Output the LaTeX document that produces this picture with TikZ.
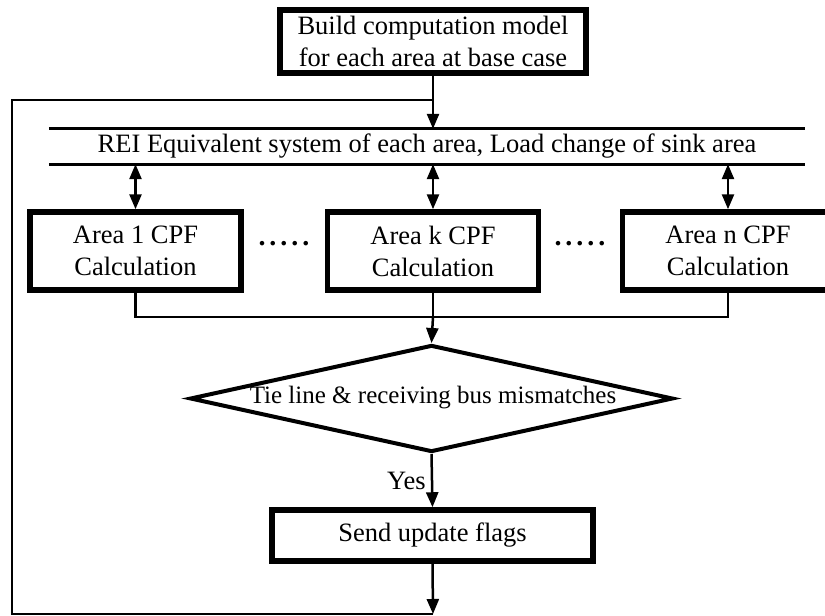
\documentclass[tikz,border=0pt]{standalone}
\usepackage{fontspec}
\setmainfont{Liberation Serif}
\usetikzlibrary{arrows.meta,shapes.geometric}

\begin{document}
\begin{tikzpicture}[x=1pt,y=-1pt,
  every node/.style={font=\fontsize{26.5}{32}\selectfont, inner sep=0pt, align=center},
  procbox/.style={draw, line width=5.5pt, rectangle},
  decbox/.style={draw, line width=4pt, diamond},
  conn/.style={line width=2.5pt},
  arr/.style={conn, -{Triangle[width=12pt,length=15pt]}},
  darr/.style={conn, {Triangle[width=12pt,length=15pt]}-{Triangle[width=12pt,length=15pt]}},
  busline/.style={line width=3pt}]

  \useasboundingbox (0,0) rectangle (825,616);

  % process boxes
  \node[procbox, minimum width=306pt, minimum height=63pt] (top) at (433,41.5)
    {Build computation model\\for each area at base case};

  % interface bus: two rails with the caption between them
  \node[minimum width=756pt, minimum height=35pt] (bus) at (427,146.5)
    {REI Equivalent system of each area, Load change of sink area};
  \draw[busline] (bus.north west) -- (bus.north east);
  \draw[busline] (bus.south west) -- (bus.south east);

  \node[procbox, minimum width=211pt, minimum height=78pt] (a1) at (135.5,251)
    {Area 1 CPF\\Calculation};
  \node[procbox, minimum width=211pt, minimum height=78pt] (ak) at (433,251)
    {Area k CPF\\Calculation};
  \node[procbox, minimum width=211pt, minimum height=78pt] (an) at (728,251)
    {Area n CPF\\Calculation};

  \node[font=\fontsize{28}{28}\selectfont\bfseries] (d1) at (284,244)
    {.\kern4pt.\kern4pt.\kern4pt.\kern4pt.};
  \node[font=\fontsize{28}{28}\selectfont\bfseries] (d2) at (580,244)
    {.\kern4pt.\kern4pt.\kern4pt.\kern4pt.};

  % decision
  \node[decbox, minimum width=483pt, minimum height=107pt] (dec) at (431.5,398.5) {};
  \node[font=\fontsize{25}{30}\selectfont] (dectext) at (433,398)
    {Tie line \& receiving bus mismatches};

  \node[procbox, minimum width=321pt, minimum height=51pt] (send) at (432.5,535.5)
    {Send update flags};

  % junction points
  \coordinate (join) at (433,100);
  \coordinate (merge) at (433,317);
  \coordinate (bot) at (433,614);
  \coordinate (botleft) at (12,614);

  % connectors
  \draw[arr] (top.south) -- (bus.north -| top.south);
  \draw[darr] (bus.south -| a1.north) -- (a1.north);
  \draw[darr] (bus.south -| ak.north) -- (ak.north);
  \draw[darr] (bus.south -| an.north) -- (an.north);

  \draw[conn] (a1.south) |- (merge) -| (an.south);
  \draw[conn] (ak.south) -- (merge);
  \draw[arr] (merge) -- (dec.north);

  \draw[arr] (dec.south) -- node[left=5pt, pos=0.5] (yes) {Yes} (send.north);

  \draw[arr] (send.south) -- (bot);
  \draw[conn] (bot) -- (botleft) |- (join);
\end{tikzpicture}
\end{document}
